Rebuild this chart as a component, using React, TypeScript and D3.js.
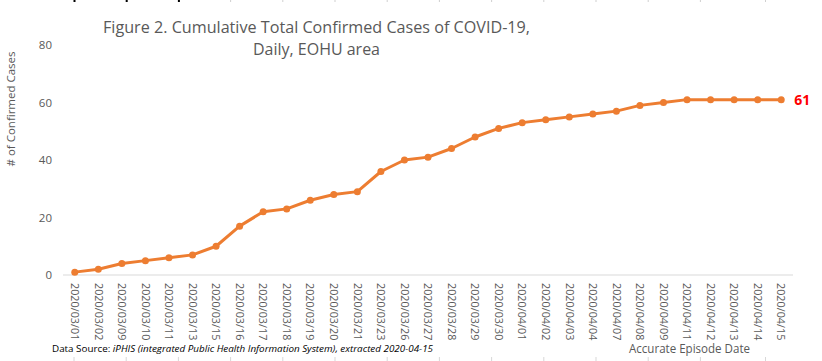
import * as d3 from "d3";
import { useEffect, useRef } from "react";

// episode dates (categorical axis) and cumulative confirmed cases
const dates: string[] = [
  "2020/03/01", "2020/03/02", "2020/03/09", "2020/03/10", "2020/03/11",
  "2020/03/13", "2020/03/15", "2020/03/16", "2020/03/17", "2020/03/18",
  "2020/03/19", "2020/03/20", "2020/03/21", "2020/03/23", "2020/03/26",
  "2020/03/27", "2020/03/28", "2020/03/29", "2020/03/30", "2020/04/01",
  "2020/04/02", "2020/04/03", "2020/04/04", "2020/04/07", "2020/04/08",
  "2020/04/09", "2020/04/11", "2020/04/12", "2020/04/13", "2020/04/14",
  "2020/04/15",
];
const cumulative: number[] = [
  1, 2, 4, 5, 6, 7, 10, 17, 22, 23, 26, 28, 29, 36, 40, 41, 44, 48, 51, 53,
  54, 55, 56, 57, 59, 60, 61, 61, 61, 61, 61,
];
const yTicks: number[] = [0, 20, 40, 60, 80];

const titleLines = ["Figure 2. Cumulative Total Confirmed Cases of COVID-19,", "Daily, EOHU area"];
const yTitle = "# of Confirmed Cases";
const xTitle = "Accurate Episode Date";

const W = 822;
const H = 361;
const FONT = "'Open Sans', 'Noto Sans', sans-serif";
const GREY = "#595959";
const ORANGE = "#ED7D31";

const App = () => {
  const ref = useRef<SVGSVGElement | null>(null);

  useEffect(() => {
    const svg = d3.select(ref.current);
    svg.selectAll("*").remove();

    const xScale = d3.scaleBand<string>().domain(dates).range([63, 793]).padding(0);
    const yScale = d3.scaleLinear().domain([0, 80]).range([275, 45]);
    const cx = (d: string) => (xScale(d) as number) + xScale.bandwidth() / 2;

    // faint spreadsheet cell edges peeking at the top and bottom
    const cellEdges = d3.range(13).map((i) => 73.5 + i * 52.2).concat([765]);
    svg.append("g")
      .selectAll("rect")
      .data(cellEdges)
      .join("rect")
      .attr("x", (d) => d)
      .attr("y", 0)
      .attr("width", (d, i) => (i < 3 ? 2 : 1))
      .attr("height", 2)
      .attr("fill", (d, i) => (i < 3 ? "#000" : "#d0d0d0"));
    svg.append("g")
      .selectAll("rect")
      .data(cellEdges)
      .join("rect")
      .attr("x", (d) => d)
      .attr("y", 357)
      .attr("width", 1)
      .attr("height", 4)
      .attr("fill", "#d8d8d8");

    // title
    const title = svg.append("text")
      .attr("fill", GREY)
      .attr("font-family", FONT)
      .attr("font-size", 17)
      .attr("text-anchor", "middle");
    title.append("tspan").attr("x", 316.5).attr("y", 33).text(titleLines[0])
      .attr("textLength", 427).attr("lengthAdjust", "spacingAndGlyphs");
    title.append("tspan").attr("x", 316.5).attr("y", 55).text(titleLines[1])
      .attr("textLength", 127).attr("lengthAdjust", "spacingAndGlyphs");

    // y axis labels (no axis line)
    svg.append("g")
      .selectAll("text")
      .data(yTicks)
      .join("text")
      .attr("x", 52)
      .attr("y", (d) => yScale(d))
      .attr("dy", "0.35em")
      .attr("text-anchor", "end")
      .attr("fill", GREY)
      .attr("font-family", FONT)
      .attr("font-size", 11.5)
      .text((d) => d);

    // y title
    svg.append("text")
      .attr("transform", "translate(15,109)rotate(-90)")
      .attr("text-anchor", "middle")
      .attr("fill", GREY)
      .attr("font-family", FONT)
      .attr("font-size", 11.5)
      .attr("textLength", 115)
      .attr("lengthAdjust", "spacingAndGlyphs")
      .text(yTitle);

    // x axis line
    svg.append("line")
      .attr("x1", 63).attr("x2", 793)
      .attr("y1", yScale(0)).attr("y2", yScale(0))
      .attr("stroke", "#d9d9d9")
      .attr("stroke-width", 1);

    // x tick labels, rotated
    svg.append("g")
      .selectAll("text")
      .data(dates)
      .join("text")
      .attr("transform", (d) => `translate(${cx(d)},283)rotate(90)`)
      .attr("dy", "0.35em")
      .attr("fill", GREY)
      .attr("font-family", FONT)
      .attr("font-size", 10.8)
      .text((d) => d);

    // the line
    const line = d3.line<number>()
      .x((d, i) => cx(dates[i]))
      .y((d) => yScale(d));

    svg.append("path")
      .datum(cumulative)
      .attr("d", line)
      .attr("fill", "none")
      .attr("stroke", ORANGE)
      .attr("stroke-width", 3)
      .attr("stroke-linejoin", "round");

    svg.append("g")
      .selectAll("circle")
      .data(cumulative)
      .join("circle")
      .attr("cx", (d, i) => cx(dates[i]))
      .attr("cy", (d) => yScale(d))
      .attr("r", 3.5)
      .attr("fill", ORANGE);

    // last value label
    const last = cumulative.length - 1;
    svg.append("text")
      .attr("x", cx(dates[last]) + 13)
      .attr("y", yScale(cumulative[last]))
      .attr("dy", "0.36em")
      .attr("fill", "#FF0000")
      .attr("font-family", FONT)
      .attr("font-weight", "bold")
      .attr("font-size", 14)
      .text(cumulative[last]);

    // x title
    svg.append("text")
      .attr("x", 629)
      .attr("y", 353)
      .attr("fill", GREY)
      .attr("font-family", FONT)
      .attr("font-size", 12)
      .attr("textLength", 121)
      .attr("lengthAdjust", "spacingAndGlyphs")
      .text(xTitle);

    // source note
    const src = svg.append("text")
      .attr("x", 52)
      .attr("y", 352)
      .attr("fill", "#000")
      .attr("font-family", FONT)
      .attr("font-size", 9.5)
      .attr("textLength", 381)
      .attr("lengthAdjust", "spacingAndGlyphs");
    src.append("tspan").text("Data Source: ");
    src.append("tspan")
      .attr("font-style", "italic")
      .text("iPHIS (integrated Public Health Information System), extracted 2020-04-15");
  }, []);

  return (
    <svg
      ref={ref}
      width={W}
      height={H}
      style={{ position: "absolute", left: 0, top: 0, background: "#fff" }}
    />
  );
};

export default App;
